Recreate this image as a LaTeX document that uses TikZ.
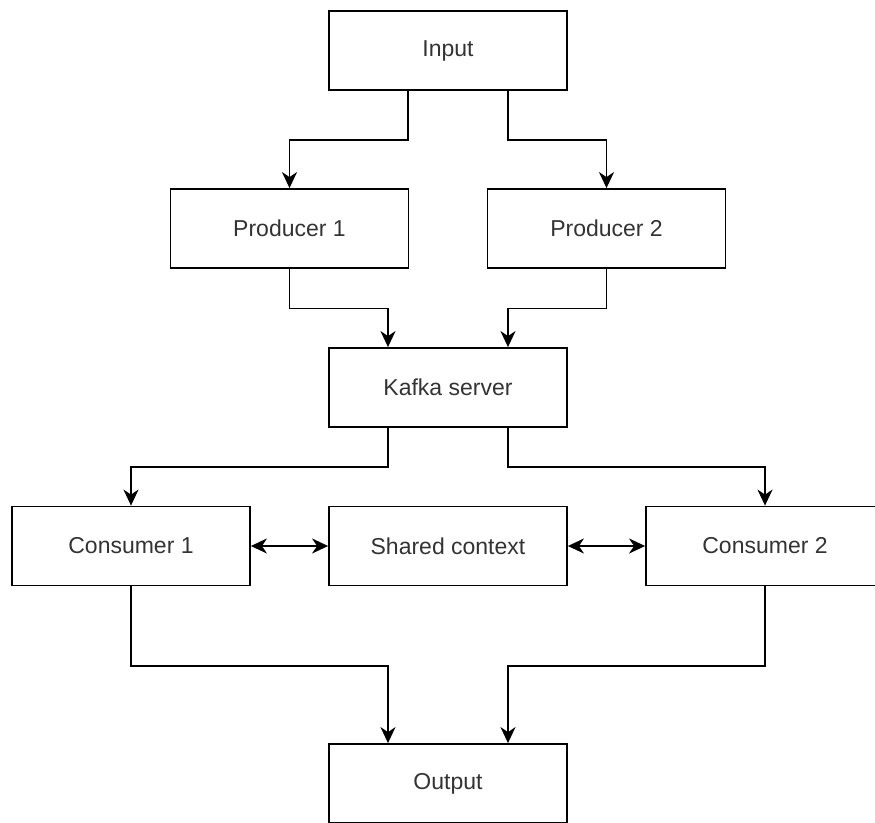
\documentclass[tikz,border=0pt]{standalone}
\usepackage{fontspec}
\setmainfont{Liberation Sans}
\usetikzlibrary{arrows.meta}
\definecolor{txt}{RGB}{51,51,51}
\tikzset{
  box/.style={draw=black, line width=1.8pt, fill=white, rectangle, minimum width=238pt, minimum height=79pt, inner sep=0pt,
    font=\fontsize{23}{27}\selectfont, text=txt},
  tip/.tip={Stealth[length=16pt,width=15pt,inset=5pt]},
  arr/.style={draw=black, line width=1.8pt, -tip},
  darr/.style={draw=black, line width=1.8pt, tip-tip}
}
\begin{document}
\begin{tikzpicture}[x=1pt,y=-1pt]
\useasboundingbox (0,0) rectangle (875,822);
\fill[white] (0,0) rectangle (875,822);
\clip (0,0) rectangle (875,822);
\node[box] (inp) at (448,50.5) {Input};
\node[box] (p1) at (289.5,228.5) {Producer 1};
\node[box] (p2) at (606.5,228.5) {Producer 2};
\node[box] (kafka) at (448,387.5) {Kafka server};
\node[box] (c1) at (131,546) {Consumer 1};
\node[box] (sh) at (448,546) {Shared context};
\node[box] (c2) at (765,546) {Consumer 2};
\node[box] (out) at (448,783.5) {Output};
\draw[arr] ([xshift=-40pt]inp.south) -- ++(0,49) -| (p1.north);
\draw[arr] ([xshift=60pt]inp.south) -- ++(0,49) -| (p2.north);
\draw[arr] (p1.south) -- ++(0,39.5) -| ([xshift=-60pt]kafka.north);
\draw[arr] (p2.south) -- ++(0,39.5) -| ([xshift=60pt]kafka.north);
\draw[arr] ([xshift=-60pt]kafka.south) -- ++(0,39) -| (c1.north);
\draw[arr] ([xshift=60pt]kafka.south) -- ++(0,39) -| (c2.north);
\draw[darr] (c1.east) -- (sh.west);
\draw[darr] (sh.east) -- (c2.west);
\draw[arr] (c1.south) -- ++(0,79.5) -| ([xshift=-60pt]out.north);
\draw[arr] (c2.south) -- ++(0,79.5) -| ([xshift=60pt]out.north);
\end{tikzpicture}
\end{document}
